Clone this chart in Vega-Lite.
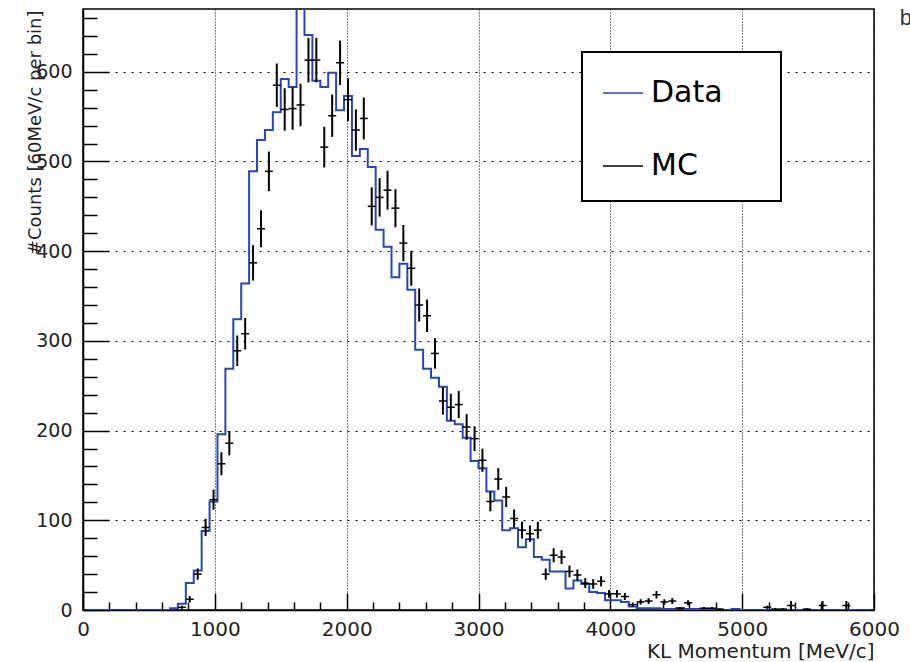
{
  "$schema": "https://vega.github.io/schema/vega-lite/v6.json",
  "width": 791,
  "height": 601,
  "autosize": {"type": "none"},
  "padding": {"left": 83, "top": 9, "right": 36, "bottom": 52},
  "background": "white",
  "config": {"view": {"stroke": "black", "strokeWidth": 1.5}, "font": "DejaVu Sans"},
  "title": {"text": "b", "anchor": "end", "frame": "group", "orient": "top", "fontSize": 22, "fontWeight": "normal", "font": "Liberation Sans", "color": "#333", "dx": 38, "dy": 38, "baseline": "alphabetic", "offset": 0},
  "data": {"values": [
    {"p":30,"data":0,"mc":0,"err":0},{"p":90,"data":0,"mc":0,"err":0},{"p":150,"data":0,"mc":0,"err":0},{"p":210,"data":0,"mc":0,"err":0},
    {"p":270,"data":0,"mc":0,"err":0},{"p":330,"data":0,"mc":0,"err":0},{"p":390,"data":0,"mc":0,"err":0},{"p":450,"data":0,"mc":0,"err":0},
    {"p":510,"data":0,"mc":0,"err":0},{"p":570,"data":0,"mc":0,"err":0},{"p":630,"data":0,"mc":0,"err":0},{"p":690,"data":2,"mc":0,"err":0},
    {"p":750,"data":7,"mc":3,"err":1.7},{"p":810,"data":30,"mc":12,"err":3.5},{"p":870,"data":44,"mc":40,"err":6.3},{"p":930,"data":88,"mc":92,"err":9.6},
    {"p":990,"data":121,"mc":123,"err":11.1},{"p":1050,"data":196,"mc":163,"err":12.8},{"p":1110,"data":269,"mc":186,"err":13.6},{"p":1170,"data":324,"mc":289,"err":17},
    {"p":1230,"data":364,"mc":308,"err":17.5},{"p":1290,"data":489,"mc":387,"err":19.7},{"p":1350,"data":524,"mc":425,"err":20.6},{"p":1410,"data":535,"mc":489,"err":22.1},
    {"p":1470,"data":555,"mc":585,"err":24.2},{"p":1530,"data":592,"mc":558,"err":23.6},{"p":1590,"data":583,"mc":559,"err":23.6},{"p":1650,"data":700,"mc":563,"err":23.7},
    {"p":1710,"data":641,"mc":613,"err":24.8},{"p":1770,"data":590,"mc":613,"err":24.8},{"p":1830,"data":583,"mc":516,"err":22.7},{"p":1890,"data":599,"mc":551,"err":23.5},
    {"p":1950,"data":557,"mc":610,"err":24.7},{"p":2010,"data":573,"mc":569,"err":23.9},{"p":2070,"data":506,"mc":535,"err":23.1},{"p":2130,"data":514,"mc":548,"err":23.4},
    {"p":2190,"data":494,"mc":450,"err":21.2},{"p":2250,"data":424,"mc":460,"err":21.4},{"p":2310,"data":405,"mc":468,"err":21.6},{"p":2370,"data":371,"mc":448,"err":21.2},
    {"p":2430,"data":386,"mc":409,"err":20.2},{"p":2490,"data":357,"mc":381,"err":19.5},{"p":2550,"data":290,"mc":340,"err":18.4},{"p":2610,"data":269,"mc":328,"err":18.1},
    {"p":2670,"data":259,"mc":286,"err":16.9},{"p":2730,"data":249,"mc":233,"err":15.3},{"p":2790,"data":211,"mc":226,"err":15},{"p":2850,"data":207,"mc":229,"err":15.1},
    {"p":2910,"data":192,"mc":204,"err":14.3},{"p":2970,"data":166,"mc":191,"err":13.8},{"p":3030,"data":158,"mc":167,"err":12.9},{"p":3090,"data":132,"mc":121,"err":11},
    {"p":3150,"data":122,"mc":146,"err":12.1},{"p":3210,"data":89,"mc":126,"err":11.2},{"p":3270,"data":91,"mc":102,"err":10.1},{"p":3330,"data":70,"mc":89,"err":9.4},
    {"p":3390,"data":79,"mc":85,"err":9.2},{"p":3450,"data":59,"mc":89,"err":9.4},{"p":3510,"data":56,"mc":40,"err":6.3},{"p":3570,"data":43,"mc":61,"err":7.8},
    {"p":3630,"data":43,"mc":59,"err":7.7},{"p":3690,"data":24,"mc":43,"err":6.6},{"p":3750,"data":33,"mc":39,"err":6.2},{"p":3810,"data":29,"mc":30,"err":5.5},
    {"p":3870,"data":20,"mc":29,"err":5.4},{"p":3930,"data":19,"mc":32,"err":5.7},{"p":3990,"data":11,"mc":18,"err":4.2},{"p":4050,"data":11,"mc":18,"err":4.2},
    {"p":4110,"data":9,"mc":15,"err":3.9},{"p":4170,"data":4,"mc":6,"err":2.4},{"p":4230,"data":2,"mc":9,"err":3},{"p":4290,"data":2,"mc":10,"err":3.2},
    {"p":4350,"data":2,"mc":17,"err":4.1},{"p":4410,"data":1,"mc":9,"err":3},{"p":4470,"data":1,"mc":10,"err":3.2},{"p":4530,"data":2,"mc":2,"err":1.4},
    {"p":4590,"data":1,"mc":8,"err":2.8},{"p":4650,"data":1,"mc":0,"err":0},{"p":4710,"data":0,"mc":2,"err":1.4},{"p":4770,"data":1,"mc":2,"err":1.4},
    {"p":4830,"data":0,"mc":1,"err":1},{"p":4890,"data":0,"mc":0,"err":0},{"p":4950,"data":1,"mc":0,"err":0},{"p":5010,"data":0,"mc":0,"err":0},
    {"p":5070,"data":0,"mc":0,"err":0},{"p":5130,"data":0,"mc":0,"err":0},{"p":5190,"data":0,"mc":3,"err":1.7},{"p":5250,"data":0,"mc":1,"err":1},
    {"p":5310,"data":0,"mc":1,"err":1},{"p":5370,"data":0,"mc":5,"err":5},{"p":5430,"data":0,"mc":0,"err":0},{"p":5490,"data":0,"mc":1,"err":1},
    {"p":5550,"data":0,"mc":0,"err":0},{"p":5610,"data":0,"mc":5,"err":5},{"p":5670,"data":0,"mc":0,"err":0},{"p":5730,"data":0,"mc":0,"err":0},
    {"p":5790,"data":0,"mc":5,"err":5},{"p":5850,"data":0,"mc":0,"err":0},{"p":5910,"data":0,"mc":0,"err":0},{"p":5970,"data":0,"mc":0,"err":0}
  ]},
  "layer": [
    {
      "mark": {"type": "line", "interpolate": "step", "strokeWidth": 2, "clip": true},
      "encoding": {
        "x": {"field": "p", "type": "quantitative", "scale": {"domain": [0, 6000], "nice": false},
          "axis": {"values": [0, 1000, 2000, 3000, 4000, 5000, 6000], "format": "d", "tickSize": -17, "tickColor": "black", "tickWidth": 1.5,
            "labelFontSize": 20, "labelFont": "DejaVu Sans", "labelColor": "#222", "labelPadding": 26, "labelFlush": false, "labelOverlap": false,
            "grid": true, "gridColor": "black", "gridDash": [1, 2], "gridWidth": 1, "gridOpacity": 1,
            "domainColor": "black", "domainWidth": 1.5,
            "title": "KL Momentum [MeV/c]", "titleFontSize": 20, "titleFont": "DejaVu Sans", "titleFontWeight": "normal", "titleColor": "#222",
            "titleAnchor": "end", "titleAlign": "right", "titleBaseline": "alphabetic", "titleX": 791, "titleY": 47}},
        "y": {"field": "data", "type": "quantitative", "scale": {"domain": [0, 670], "nice": false},
          "axis": {"values": [0, 100, 200, 300, 400, 500, 600], "format": "d", "tickSize": -26, "tickColor": "black", "tickWidth": 1.5,
            "labelFontSize": 19, "labelFont": "DejaVu Sans", "labelColor": "#222", "labelPadding": 37, "labelFlush": false, "labelOverlap": false,
            "grid": true, "gridColor": "black", "gridDash": [2, 6], "gridWidth": 1, "gridOpacity": 1,
            "domainColor": "black", "domainWidth": 1.5,
            "title": "#Counts [60MeV/c per bin]", "titleFontSize": 18, "titleFont": "DejaVu Sans", "titleFontWeight": "normal", "titleColor": "#222",
            "titleAngle": -90, "titleAnchor": "end", "titleAlign": "right", "titleBaseline": "alphabetic", "titleX": -43, "titleY": 1}},
        "color": {"datum": "Data", "scale": {"domain": ["Data", "MC"], "range": ["#2747b5", "black"]},
          "legend": {"orient": "none", "legendX": 499, "legendY": 43, "title": null, "symbolType": "stroke", "symbolSize": 1600,
            "symbolStrokeWidth": 1.5, "labelFontSize": 30, "labelFont": "DejaVu Sans", "labelColor": "black", "labelOffset": 7,
            "padding": 20, "rowPadding": 37, "strokeColor": "black", "fillColor": "white",
            "labelExpr": "datum.label + '\u00a0\u00a0\u00a0\u00a0\u200b'",
            "encode": {"legend": {"update": {"strokeWidth": {"value": 2}}}}}}
      }
    },
    {
      "transform": [{"filter": "datum.mc > 0"}],
      "mark": {"type": "errorbar", "thickness": 2},
      "encoding": {
        "x": {"field": "p", "type": "quantitative", "scale": {"domain": [0, 6000], "nice": false},
          "axis": {"orient": "bottom", "values": [200,400,600,800,1200,1400,1600,1800,2200,2400,2600,2800,3200,3400,3600,3800,4200,4400,4600,4800,5200,5400,5600,5800],
            "tickSize": -8, "tickColor": "black", "tickWidth": 1.5, "labels": false, "grid": false, "domain": false, "title": null}},
        "y": {"field": "mc", "type": "quantitative", "scale": {"domain": [0, 670], "nice": false},
          "axis": {"orient": "left", "values": [20,40,60,80,120,140,160,180,220,240,260,280,320,340,360,380,420,440,460,480,520,540,560,580,620,640,660],
            "tickSize": -14, "tickColor": "black", "tickWidth": 1.5, "labels": false, "grid": false, "domain": false, "title": null}},
        "yError": {"field": "err"},
        "color": {"datum": "MC"}
      }
    },
    {
      "transform": [{"filter": "datum.mc > 0"}],
      "mark": {"type": "tick", "orient": "horizontal", "size": 8, "thickness": 1.5, "opacity": 1},
      "encoding": {
        "x": {"field": "p", "type": "quantitative", "scale": {"domain": [0, 6000], "nice": false}, "axis": null},
        "y": {"field": "mc", "type": "quantitative", "scale": {"domain": [0, 670], "nice": false}, "axis": null},
        "color": {"datum": "MC"}
      }
    }
  ],
  "resolve": {"axis": {"x": "independent", "y": "independent"}}
}
